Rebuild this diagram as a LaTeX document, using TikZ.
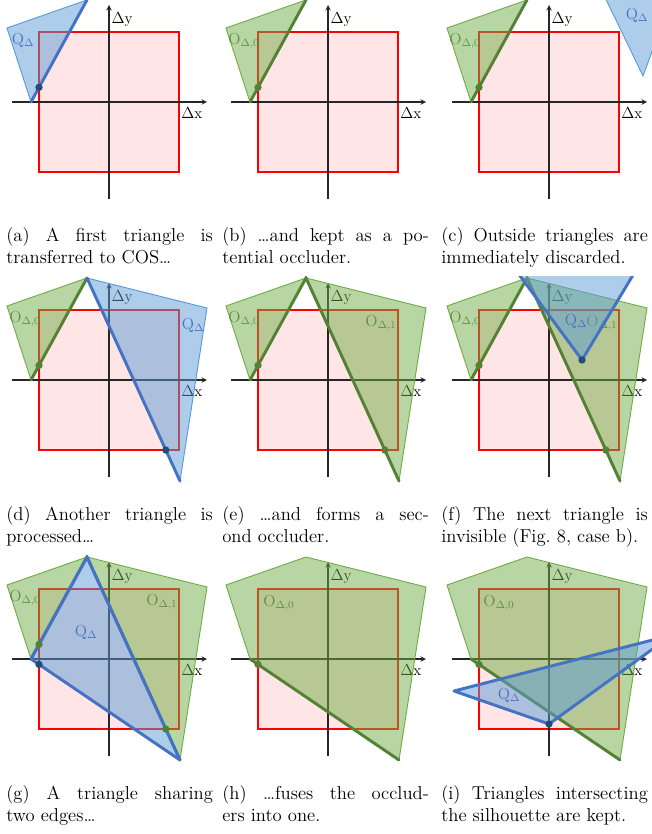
\documentclass[tikz,border=0pt]{standalone}
\usepackage{fontspec}
\usepackage{amsmath}
\usepackage{tikz}
\usetikzlibrary{arrows}

\definecolor{ogreen}{HTML}{70AD47}
\definecolor{dgreen}{HTML}{548235}
\definecolor{qblue}{HTML}{5B9BD5}
\definecolor{dblue}{HTML}{4472C4}
\definecolor{nblue}{HTML}{1F4E79}

\begin{document}
\begin{tikzpicture}[x=0.75pt,y=-0.75pt,
  cosbox/.style={draw=red,fill=red!10,line width=0.8pt},
  axis/.style={-stealth,line width=0.8pt,black!85},
  axlabel/.style={inner sep=1pt,font=\fontsize{11.5}{13}\selectfont},
  occl/.style={fill=ogreen,fill opacity=0.5,draw=ogreen,line width=0.7pt},
  cand/.style={fill=qblue,fill opacity=0.5,draw=qblue,line width=0.7pt},
  occedge/.style={dgreen,line width=2.2pt,line cap=round},
  candedge/.style={dblue,line width=2.2pt,line cap=round,line join=round},
  odot/.style={circle,fill=dgreen,inner sep=0pt,minimum size=5.5pt},
  qdot/.style={circle,fill=nblue,inner sep=0pt,minimum size=5.5pt},
  olabel/.style={text=dgreen,text opacity=0.85,inner sep=0pt,font=\fontsize{12}{14}\selectfont},
  qlabel/.style={text=dblue,inner sep=0pt,font=\fontsize{12}{14}\selectfont},
  caption/.style={anchor=base west,text width=155pt,align=justify,inner sep=0pt,
    font=\fontsize{14}{16.5}\selectfont},
  panel/.style={shift={#1},
    execute at begin scope={
      \clip (-109,-103.5) rectangle (103.5,103);
      \filldraw[cosbox] (-70,-70) rectangle (70,70);
      \draw[axis] (-97,0) -- (98,0);
      \draw[axis] (0,97) -- (0,-97);
      \node[axlabel,anchor=west] (dy) at (1,-82) {\(\Delta\)y};
      \node[axlabel,anchor=east] (dx) at (95,11) {\(\Delta\)x};
      \path (-22,-102) coordinate (A) (-102,-74) coordinate (L) (-78,0) coordinate (B)
            (98,-72) coordinate (R) (71,101) coordinate (D);
    }}]

  \useasboundingbox (0,0) rectangle (652,834);

  % (a) first triangle
  \begin{scope}[panel={(109,102)}]
    \filldraw[cand] (A) -- (L) -- (B) -- cycle;
    \draw[candedge] (B) -- (A);
    \node[qdot] (qa) at (-70,-14.6) {};
    \node[qlabel] (qla) at (-86,-62) {\(\mathrm{Q}_\Delta\)};
  \end{scope}

  % (b) kept as occluder
  \begin{scope}[panel={(328,102)}]
    \filldraw[occl] (A) -- (L) -- (B) -- cycle;
    \draw[occedge] (B) -- (A);
    \node[odot] (ob) at (-70,-14.6) {};
    \node[olabel] (olb) at (-84,-61) {\(\mathrm{O}_{\Delta,0}\)};
  \end{scope}

  % (c) outside triangle
  \begin{scope}[panel={(549,102)}]
    \filldraw[occl] (A) -- (L) -- (B) -- cycle;
    \draw[occedge] (B) -- (A);
    \node[odot] (oc) at (-70,-14.6) {};
    \node[olabel] (olc) at (-84,-61) {\(\mathrm{O}_{\Delta,0}\)};
    \filldraw[cand] (51,-115) -- (127,-115) -- (94,-26) -- cycle;
    \node[qlabel] (qlc) at (88,-87) {\(\mathrm{Q}_\Delta\)};
  \end{scope}

  % (d) another triangle
  \begin{scope}[panel={(109,380)}]
    \filldraw[occl] (A) -- (L) -- (B) -- cycle;
    \draw[occedge] (B) -- (A);
    \node[odot] (od) at (-70,-14.6) {};
    \node[olabel] (old) at (-84,-61) {\(\mathrm{O}_{\Delta,0}\)};
    \filldraw[cand] (A) -- (R) -- (D) -- cycle;
    \draw[candedge] (A) -- (D);
    \node[qdot] (qd) at (56.8,70) {};
    \node[qlabel] (qld) at (84,-55) {\(\mathrm{Q}_\Delta\)};
  \end{scope}

  % (e) second occluder
  \begin{scope}[panel={(328,380)}]
    \filldraw[occl] (A) -- (L) -- (B) -- cycle;
    \filldraw[occl] (A) -- (R) -- (D) -- cycle;
    \draw[occedge] (B) -- (A) -- (D);
    \node[odot] (oe0) at (-70,-14.6) {};
    \node[odot] (oe1) at (56.8,70) {};
    \node[olabel] (ole0) at (-84,-61) {\(\mathrm{O}_{\Delta,0}\)};
    \node[olabel] (ole1) at (53,-57) {\(\mathrm{O}_{\Delta,1}\)};
  \end{scope}

  % (f) invisible triangle
  \begin{scope}[panel={(549,380)}]
    \filldraw[occl] (A) -- (L) -- (B) -- cycle;
    \filldraw[occl] (A) -- (R) -- (D) -- cycle;
    \draw[occedge] (B) -- (A) -- (D);
    \node[odot] (of0) at (-70,-14.6) {};
    \node[odot] (of1) at (56.8,70) {};
    \node[olabel] (olf0) at (-84,-61) {\(\mathrm{O}_{\Delta,0}\)};
    \node[olabel] (olf1) at (53,-57) {\(\mathrm{O}_{\Delta,1}\)};
    \filldraw[cand] (-37,-115) -- (90,-115) -- (33,-20) -- cycle;
    \draw[candedge] (-37,-115) -- (33,-20) -- (90,-115);
    \node[qdot] (qf) at (33,-20) {};
    \node[qlabel] (qlf) at (27,-59) {\(\mathrm{Q}_\Delta\)};
  \end{scope}

  % (g) triangle sharing two edges
  \begin{scope}[panel={(109,659)}]
    \filldraw[occl] (A) -- (L) -- (B) -- cycle;
    \filldraw[occl] (A) -- (R) -- (D) -- cycle;
    \draw[occedge] (B) -- (A) -- (D);
    \node[olabel] (olg0) at (-84,-61) {\(\mathrm{O}_{\Delta,0}\)};
    \node[olabel] (olg1) at (53,-57) {\(\mathrm{O}_{\Delta,1}\)};
    \filldraw[cand] (A) -- (B) -- (D) -- cycle;
    \draw[candedge] (A) -- (B) -- (D) -- cycle;
    \node[odot] (og0) at (-70,-14.6) {};
    \node[odot] (og1) at (56.8,70) {};
    \node[qdot] (qg) at (-70,5.4) {};
    \node[qlabel] (qlg) at (-23,-27) {\(\mathrm{Q}_\Delta\)};
  \end{scope}

  % (h) fused occluder
  \begin{scope}[panel={(328,659)}]
    \filldraw[occl] (L) -- (A) -- (R) -- (D) -- (B) -- cycle;
    \draw[occedge] (B) -- (D);
    \node[odot] (oh) at (-70,5.4) {};
    \node[olabel] (olh) at (-49,-56) {\(\mathrm{O}_{\Delta,0}\)};
  \end{scope}

  % (i) intersecting triangle
  \begin{scope}[panel={(549,659)}]
    \filldraw[occl] (L) -- (A) -- (R) -- (D) -- (B) -- cycle;
    \draw[occedge] (B) -- (D);
    \node[odot] (oi) at (-70,5.4) {};
    \node[olabel] (oli) at (-50,-56) {\(\mathrm{O}_{\Delta,0}\)};
    \filldraw[cand] (-95,32) -- (123,-24) -- (0,65) -- cycle;
    \draw[candedge] (-95,32) -- (123,-24) -- (0,65) -- cycle;
    \node[qdot] (qi) at (0,65) {};
    \node[qlabel] (qli) at (-40,36) {\(\mathrm{Q}_\Delta\)};
  \end{scope}

  % captions
  \node[caption] (capa) at (6,242) {(a) A first triangle is\linebreak transferred to COS\ldots};
  \node[caption] (capb) at (222,242) {(b) \ldots and kept as a po-\linebreak tential occluder.};
  \node[caption] (capc) at (441,242) {(c) Outside triangles are\linebreak immediately discarded.};
  \node[caption] (capd) at (6,520) {(d) Another triangle is\linebreak processed\ldots};
  \node[caption] (cape) at (222,520) {(e) \ldots and forms a sec-\linebreak ond occluder.};
  \node[caption] (capf) at (441,520) {(f) The next triangle is\linebreak invisible (Fig.~8, case b).};
  \node[caption] (capg) at (6,799) {(g) A triangle sharing\linebreak two edges\ldots};
  \node[caption] (caph) at (222,799) {(h) \ldots fuses the occlud-\linebreak ers into one.};
  \node[caption] (capi) at (441,799) {(i) Triangles intersecting\linebreak the silhouette are kept.};
\end{tikzpicture}
\end{document}
